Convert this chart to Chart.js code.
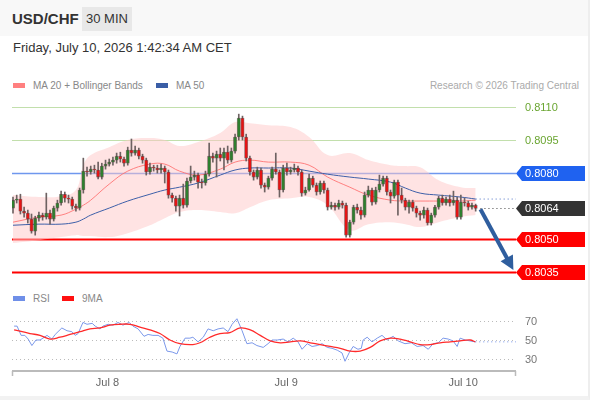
<!DOCTYPE html>
<html>
<head>
<meta charset="utf-8">
<script src="https://cdn.jsdelivr.net/npm/chart.js@4.4.0/dist/chart.umd.min.js"></script>
<style>
body { margin: 0; background: #fff; font-family: "Liberation Sans", Arial, sans-serif; }
#wrap { position: relative; width: 588px; height: 396px; overflow: hidden; background: #fff;
        border-right: 2px solid #eee; border-bottom: 4px solid #f2f2f2; }
#head { position: absolute; left: 0; top: 0; width: 590px; height: 36px; background: #f8f8f8; }
#pair { position: absolute; left: 12px; top: 10px; font-weight: bold; font-size: 15px; line-height: 18px; color: #333; }
#tf { position: absolute; left: 82px; top: 7px; width: 50px; height: 24px; line-height: 24px; background: #e8e8e8;
      font-size: 13px; text-align: center; color: #333; }
#date { position: absolute; left: 13px; top: 40px; font-size: 13px; line-height: 16px; color: #333; }
.leg { position: absolute; font-size: 10px; line-height: 12px; color: #888; }
.sw { display: inline-block; width: 12px; height: 5px; vertical-align: 1px; margin-right: 8px; }
#research { position: absolute; right: 9px; top: 80px; font-size: 10px; line-height: 12px; color: #aaa; }
#main { position: absolute; left: 0; top: 95px; }
#rsi { position: absolute; left: 0; top: 305px; }
</style>
</head>
<body>
<div id="wrap">
  <div id="head"></div>
  <div id="pair">USD/CHF</div>
  <div id="tf">30 MIN</div>
  <div id="date">Friday, July 10, 2026 1:42:34 AM CET</div>
  <div class="leg" style="left:13px;top:80px"><span class="sw" style="background:#ff8080"></span>MA 20 + Bollinger Bands</div>
  <div class="leg" style="left:156px;top:80px"><span class="sw" style="background:#3a5ea6"></span>MA 50</div>
  <div id="research">Research © 2026 Trading Central</div>
  <div class="leg" style="left:13px;top:293px"><span class="sw" style="background:#6f8fe8"></span>RSI</div>
  <div class="leg" style="left:62px;top:293px"><span class="sw" style="background:#ff1010"></span>9MA</div>
  <canvas id="main" width="590" height="187"></canvas>
  <canvas id="rsi" width="590" height="95"></canvas>
</div>
<script>
// candles, 30 min, index 0 = Jul 7 11:00
var opens = [
  0.80641,0.80677,0.80682,0.80627,0.80618,0.80591,0.80536,0.80595,0.80609,0.80600,
  0.80618,0.80591,0.80641,0.80664,0.80704,0.80686,0.80682,0.80650,0.80641,0.80723,
  0.80809,0.80805,0.80818,0.80814,0.80782,0.80832,0.80841,0.80850,0.80859,0.80877,
  0.80864,0.80845,0.80905,0.80891,0.80905,0.80877,0.80859,0.80805,0.80827,0.80823,
  0.80814,0.80823,0.80805,0.80700,0.80686,0.80650,0.80686,0.80654,0.80764,0.80782,
  0.80791,0.80759,0.80755,0.80795,0.80877,0.80868,0.80886,0.80868,0.80896,0.80859,
  0.80900,0.80964,0.81050,0.80964,0.80868,0.80805,0.80782,0.80814,0.80745,0.80736,
  0.80777,0.80818,0.80805,0.80723,0.80823,0.80805,0.80814,0.80823,0.80805,0.80709,
  0.80723,0.80777,0.80745,0.80714,0.80755,0.80723,0.80645,0.80654,0.80645,0.80664,
  0.80654,0.80518,0.80577,0.80645,0.80632,0.80609,0.80700,0.80723,0.80668,0.80723,
  0.80750,0.80777,0.80714,0.80695,0.80759,0.80700,0.80677,0.80645,0.80668,0.80641,
  0.80618,0.80609,0.80632,0.80573,0.80609,0.80645,0.80686,0.80664,0.80682,0.80664,
  0.80677,0.80600,0.80668,0.80664,0.80645,0.80654]
var closes = [
  0.80677,0.80682,0.80627,0.80618,0.80591,0.80536,0.80595,0.80609,0.80600,0.80618,
  0.80591,0.80641,0.80664,0.80704,0.80686,0.80682,0.80650,0.80641,0.80723,0.80809,
  0.80805,0.80818,0.80814,0.80782,0.80832,0.80841,0.80850,0.80859,0.80877,0.80864,
  0.80845,0.80905,0.80891,0.80905,0.80877,0.80859,0.80805,0.80827,0.80823,0.80814,
  0.80823,0.80805,0.80700,0.80686,0.80650,0.80686,0.80654,0.80764,0.80782,0.80791,
  0.80759,0.80755,0.80795,0.80877,0.80868,0.80886,0.80868,0.80896,0.80859,0.80900,
  0.80964,0.81050,0.80964,0.80868,0.80805,0.80782,0.80814,0.80745,0.80736,0.80777,
  0.80818,0.80805,0.80723,0.80823,0.80805,0.80814,0.80823,0.80805,0.80709,0.80723,
  0.80777,0.80745,0.80714,0.80755,0.80723,0.80645,0.80654,0.80645,0.80664,0.80654,
  0.80518,0.80577,0.80645,0.80632,0.80609,0.80700,0.80723,0.80668,0.80723,0.80750,
  0.80777,0.80714,0.80695,0.80759,0.80700,0.80677,0.80645,0.80668,0.80641,0.80618,
  0.80609,0.80632,0.80573,0.80609,0.80645,0.80686,0.80664,0.80682,0.80664,0.80677,
  0.80600,0.80668,0.80664,0.80645,0.80654,0.80640]
var highs = [
  0.80691,0.80700,0.80704,0.80645,0.80632,0.80614,0.80604,0.80623,0.80618,0.80709,
  0.80632,0.80650,0.80677,0.80718,0.80714,0.80700,0.80691,0.80659,0.80732,0.80868,
  0.80827,0.80832,0.80836,0.80850,0.80845,0.80859,0.80864,0.80873,0.80891,0.80895,
  0.80873,0.80918,0.80955,0.80923,0.80914,0.80886,0.80868,0.80845,0.80836,0.80836,
  0.80841,0.80832,0.80814,0.80709,0.80695,0.80700,0.80750,0.80777,0.80832,0.80809,
  0.80800,0.80773,0.80809,0.80936,0.80891,0.80900,0.80914,0.80914,0.80923,0.80914,
  0.80977,0.81068,0.81059,0.80977,0.80877,0.80814,0.80827,0.80823,0.80755,0.80786,
  0.80827,0.80891,0.80814,0.80836,0.80845,0.80827,0.80841,0.80832,0.80814,0.80736,
  0.80795,0.80786,0.80755,0.80764,0.80764,0.80732,0.80668,0.80664,0.80677,0.80673,
  0.80664,0.80586,0.80654,0.80659,0.80645,0.80714,0.80741,0.80732,0.80736,0.80791,
  0.80786,0.80786,0.80723,0.80768,0.80768,0.80732,0.80686,0.80677,0.80677,0.80650,
  0.80627,0.80645,0.80641,0.80618,0.80654,0.80695,0.80700,0.80691,0.80700,0.80718,
  0.80691,0.80700,0.80686,0.80673,0.80664,0.80659]
var lows = [
  0.80618,0.80664,0.80614,0.80600,0.80573,0.80527,0.80518,0.80582,0.80586,0.80591,
  0.80568,0.80582,0.80627,0.80654,0.80668,0.80664,0.80636,0.80627,0.80632,0.80709,
  0.80786,0.80795,0.80800,0.80773,0.80773,0.80818,0.80832,0.80836,0.80845,0.80850,
  0.80832,0.80836,0.80877,0.80882,0.80864,0.80845,0.80791,0.80795,0.80809,0.80800,
  0.80800,0.80755,0.80686,0.80668,0.80627,0.80605,0.80641,0.80645,0.80755,0.80768,
  0.80732,0.80732,0.80745,0.80786,0.80850,0.80782,0.80855,0.80814,0.80845,0.80850,
  0.80891,0.80950,0.80950,0.80855,0.80791,0.80768,0.80773,0.80732,0.80714,0.80727,
  0.80768,0.80795,0.80691,0.80714,0.80791,0.80795,0.80805,0.80791,0.80695,0.80700,
  0.80718,0.80736,0.80700,0.80704,0.80709,0.80632,0.80636,0.80632,0.80636,0.80641,
  0.80509,0.80509,0.80568,0.80618,0.80591,0.80600,0.80691,0.80654,0.80659,0.80714,
  0.80741,0.80700,0.80664,0.80686,0.80609,0.80664,0.80632,0.80618,0.80627,0.80600,
  0.80586,0.80595,0.80564,0.80564,0.80600,0.80636,0.80654,0.80654,0.80650,0.80654,
  0.80591,0.80591,0.80650,0.80632,0.80636,0.80627]

// moving averages and bollinger bands read at these candle indexes
var maIdx = [0, 7, 13, 17, 19, 21, 26, 31, 37, 41, 45, 50, 56, 60, 64, 69, 75, 80, 85, 91, 96, 102, 106, 110, 115, 121, 125]
var ma50 = [0.80563,0.80568,0.80568,0.80577,0.80591,0.80609,0.80641,0.80673,0.80704,0.80723,0.80736,0.80755,0.80791,0.80814,
            0.80823,0.80823,0.80823,0.80809,0.80795,0.80782,0.80773,0.80759,0.80732,0.80709,0.80700,0.80691,0.80682]
var ma20 = [0.80577,0.80600,0.80609,0.80636,0.80654,0.80677,0.80750,0.80809,0.80841,0.80841,0.80809,0.80791,0.80818,0.80850,
            0.80859,0.80850,0.80850,0.80836,0.80782,0.80736,0.80700,0.80677,0.80673,0.80673,0.80673,0.80673,0.80677]
var bbUpper = [0.80700,0.80691,0.80695,0.80723,0.80836,0.80882,0.80918,0.80950,0.80959,0.80950,0.80923,0.80941,0.80982,0.81032,
               0.81027,0.81018,0.81009,0.80964,0.80882,0.80891,0.80859,0.80836,0.80832,0.80827,0.80768,0.80736,0.80732]
var bbLower = [0.80482,0.80495,0.80509,0.80518,0.80514,0.80514,0.80509,0.80527,0.80563,0.80595,0.80623,0.80632,0.80623,0.80618,
               0.80645,0.80677,0.80686,0.80691,0.80654,0.80541,0.80568,0.80577,0.80568,0.80555,0.80577,0.80600,0.80609]

// price levels on the right
var levelPrices = [0.8110, 0.8095, 0.8080, 0.8064, 0.8050, 0.8035]
var levelKinds = ['target', 'target', 'resist', 'last', 'support', 'support']
var arrowFrom = [126.3, 0.80636]
var arrowTo = [135.2, 0.80359]

// RSI panel
var rsiIdx = [0.3,1.1,2.2,3.2,4.1,5.1,6.2,7.3,8.1,9.2,10.5,11.4,13.2,14.6,15.9,16.8,17.6,18.9,20,21.4,22.2,23.5,24.3,25.7,27,
  28.4,29.7,31.4,32.4,33.8,35.4,36.5,37.8,39.2,40.5,41.6,43,44.3,45.1,46.5,47.8,48.6,50,51.4,52.7,54.1,55.4,56.8,58.1,59.2,
  60.5,61.9,63.2,64.6,65.9,67.6,68.9,70,71.4,73,74.3,75.7,77,78.1,79.5,80.8,82.2,83.5,84.9,86.2,87.6,88.9,89.7,90.8,91.9,
  93.2,94.1,94.6,95.7,97,98.4,99.7,101.1,102.7,104.1,105.9,107.6,109.2,110.8,112.2,113.5,114.9,116.2,117.6,118.9,120,120.8,
  122.2,123.5,124.9]
var rsiVal = [65,65,55,55,51,44,50,50,52,55,51,56,63,60,59,55,57,69,67,68,65,62,65,67,66,
  69,66,69,65,62,54,56,55,55,52,38,37,35,43,52,52,53,48,53,62,60,62,63,59,67,
  73,60,46,47,44,42,46,50,50,51,48,52,48,40,46,43,44,46,42,41,39,36,27,36,43,
  40,41,50,53,48,52,55,50,54,49,46,47,43,44,40,46,47,52,51,49,43,52,
  50,49,48]
var ma9Idx = [0.3,4.6,7.3,10,12.7,15.4,18.1,20.8,23.5,26.2,28.9,31.6,34.3,37,39.7,42.4,45.1,48.6,50.5,53.2,55.9,58.6,61.4,
  64.1,66.8,69.5,72.2,74.9,77.6,80.3,83,85.7,88.4,91.1,93.8,96.5,99.2,101.9,104.6,107.3,110,112.7,115.4,118.1,120.8,123.5,124.9]
var ma9Val = [61,57,55,51,53,56,59,62,63,66,67,67,64,61,57,50,46,45,47,53,57,58,63,
  61,55,49,47,48,49,47,45,43,41,38,38,42,49,52,51,48,45,45,47,48,49,50,48]
var rsiLevels = [70, 50, 30]

// x axis
var tickIdx = [25.5, 73.8, 121.6]
var tickLabels = ['Jul 8', 'Jul 9', 'Jul 10']

var X_MIN = -0.27, X_MAX = 135.9
var FONT = '"Liberation Sans", Arial, sans-serif'
var UP = '#2f7f2f', DOWN = '#e41414', WICK = '#6e6262'

var levelStyle = {
    target: { line: '#c2dfac', width: 1, text: '#6aa531' },
    resist: { line: '#6f97ee', width: 1.5, tag: '#1f62f0' },
    last: { dotted: '#444', tag: '#333333' },
    support: { line: '#ff0000', width: 2, tag: '#ff0000' }
}

function pts(xs, ys) {
    return xs.map(function (x, k) { return { x: x, y: ys[k] } })
}

var levelsPlugin = {
    id: 'levels',
    beforeDatasetsDraw: function (chart) {
        var ctx = chart.ctx, a = chart.chartArea, ys = chart.scales.y
        ctx.save()
        levelPrices.forEach(function (p, k) {
            var st = levelStyle[levelKinds[k]]
            if (!st.line) return
            var y = Math.round(ys.getPixelForValue(p)) + 0.5
            ctx.strokeStyle = st.line
            ctx.lineWidth = st.width
            ctx.beginPath(); ctx.moveTo(a.left, y); ctx.lineTo(a.right, y); ctx.stroke()
        })
        ctx.restore()
    },
    afterDraw: function (chart) {
        var ctx = chart.ctx, a = chart.chartArea, xs = chart.scales.x, ys = chart.scales.y
        ctx.save()
        levelPrices.forEach(function (p, k) {
            var st = levelStyle[levelKinds[k]]
            var y = Math.round(ys.getPixelForValue(p)) + 0.5
            // last price dotted line
            if (st.dotted) {
                ctx.strokeStyle = st.dotted; ctx.lineWidth = 1; ctx.setLineDash([1, 3])
                ctx.beginPath(); ctx.moveTo(xs.getPixelForValue(arrowFrom[0]), y); ctx.lineTo(a.right, y); ctx.stroke()
                ctx.setLineDash([])
            }
            ctx.font = '11px ' + FONT
            ctx.textBaseline = 'middle'
            var txt = p.toFixed(4)
            if (st.tag) {
                ctx.fillStyle = st.tag
                ctx.beginPath()
                ctx.moveTo(a.right, y)
                ctx.lineTo(a.right + 6, y - 7.5)
                ctx.lineTo(585, y - 7.5)
                ctx.lineTo(585, y + 7.5)
                ctx.lineTo(a.right + 6, y + 7.5)
                ctx.closePath(); ctx.fill()
                ctx.fillStyle = '#fff'
            } else {
                ctx.fillStyle = st.text
            }
            ctx.fillText(txt, a.right + 9, y + 0.5)
        })
        // arrow
        var x0 = xs.getPixelForValue(arrowFrom[0]), y0 = ys.getPixelForValue(arrowFrom[1])
        var x1 = xs.getPixelForValue(arrowTo[0]), y1 = ys.getPixelForValue(arrowTo[1])
        var ang = Math.atan2(y1 - y0, x1 - x0), head = 14
        var bx = x1 - head * Math.cos(ang), by = y1 - head * Math.sin(ang)
        ctx.strokeStyle = '#2f5e9e'; ctx.fillStyle = '#2f5e9e'; ctx.lineWidth = 4
        ctx.beginPath(); ctx.moveTo(x0, y0); ctx.lineTo(bx + 2 * Math.cos(ang), by + 2 * Math.sin(ang)); ctx.stroke()
        ctx.beginPath()
        ctx.moveTo(x1, y1)
        ctx.lineTo(bx + 7 * Math.sin(ang), by - 7 * Math.cos(ang))
        ctx.lineTo(bx - 7 * Math.sin(ang), by + 7 * Math.cos(ang))
        ctx.closePath(); ctx.fill()
        ctx.restore()
    }
}

new Chart(document.getElementById('main').getContext('2d'), {
    type: 'bar',
    data: {
        datasets: [
            {
                type: 'bar', label: 'wick',
                data: lows.map(function (l, i) { return { x: i, y: [l, highs[i]] } }),
                backgroundColor: WICK, barThickness: 1, grouped: false, order: 2
            },
            {
                type: 'bar', label: 'body',
                data: closes.map(function (c, i) { return { x: i, y: [opens[i], c] } }),
                backgroundColor: function (c) { return closes[c.dataIndex] >= opens[c.dataIndex] ? UP : DOWN },
                borderColor: 'rgba(60,40,40,0.55)', borderWidth: 0.8, borderSkipped: false,
                barThickness: 3.4, minBarLength: 1, grouped: false, order: 1
            },
            {
                type: 'line', label: 'MA 50', data: pts(maIdx, ma50),
                borderColor: '#3d5fa8', borderWidth: 1, pointRadius: 0, tension: 0.4, order: 3
            },
            {
                type: 'line', label: 'MA 20', data: pts(maIdx, ma20),
                borderColor: 'rgba(255,110,110,0.85)', borderWidth: 1, pointRadius: 0, tension: 0.4, order: 4
            },
            {
                type: 'line', label: 'BB up', data: pts(maIdx, bbUpper),
                borderWidth: 0, borderColor: 'rgba(0,0,0,0)', backgroundColor: 'rgba(255,200,200,0.5)',
                fill: '+1', pointRadius: 0, tension: 0.4, order: 6
            },
            {
                type: 'line', label: 'BB low', data: pts(maIdx, bbLower),
                borderWidth: 0, borderColor: 'rgba(0,0,0,0)', pointRadius: 0, tension: 0.4, order: 7
            },
            {
                type: 'line', label: 'MA 50 ext',
                data: [{ x: maIdx[maIdx.length - 1], y: ma50[ma50.length - 1] }, { x: X_MAX, y: ma50[ma50.length - 1] }],
                borderColor: '#4a6fc4', borderWidth: 1, borderDash: [1, 3], pointRadius: 0, order: 3
            }
        ]
    },
    options: {
        responsive: false, animation: false, events: [],
        layout: { padding: { left: 12, right: 74, top: 0, bottom: 0 } },
        plugins: { legend: { display: false }, tooltip: { enabled: false } },
        scales: {
            x: { type: 'linear', display: false, min: X_MIN, max: X_MAX, offset: false },
            y: { type: 'linear', display: false, min: 0.80305, max: 0.81155 }
        }
    },
    plugins: [levelsPlugin]
})

var rsiPlugin = {
    id: 'rsiAxes',
    beforeDatasetsDraw: function (chart) {
        var ctx = chart.ctx, a = chart.chartArea, ys = chart.scales.y
        ctx.save()
        ctx.strokeStyle = '#bbb'; ctx.lineWidth = 1; ctx.setLineDash([1, 3])
        ctx.fillStyle = '#777'; ctx.font = '11px ' + FONT; ctx.textBaseline = 'middle'
        rsiLevels.forEach(function (v) {
            var y = Math.round(ys.getPixelForValue(v)) + 0.5
            ctx.beginPath(); ctx.moveTo(a.left, y); ctx.lineTo(a.right, y); ctx.stroke()
            ctx.fillText(String(v), a.right + 9, y)
        })
        ctx.restore()
    },
    afterDraw: function (chart) {
        var ctx = chart.ctx, a = chart.chartArea, xs = chart.scales.x
        var y = a.bottom + 1
        ctx.save()
        ctx.strokeStyle = '#bbb'; ctx.lineWidth = 2
        ctx.beginPath(); ctx.moveTo(a.left, y); ctx.lineTo(a.right, y); ctx.stroke()
        ctx.lineWidth = 1.5
        ctx.beginPath()
        ctx.moveTo(a.left + 0.5, y); ctx.lineTo(a.left + 0.5, y + 5)
        ctx.moveTo(a.right - 0.5, y); ctx.lineTo(a.right - 0.5, y + 5)
        ctx.stroke()
        ctx.fillStyle = '#666'; ctx.font = '11px ' + FONT; ctx.textAlign = 'center'; ctx.textBaseline = 'middle'
        tickIdx.forEach(function (t, k) {
            ctx.fillText(tickLabels[k], xs.getPixelForValue(t), y + 12)
        })
        ctx.restore()
    }
}

new Chart(document.getElementById('rsi').getContext('2d'), {
    type: 'line',
    data: {
        datasets: [
            {
                label: 'RSI', data: pts(rsiIdx, rsiVal),
                borderColor: '#7b98ea', borderWidth: 1, pointRadius: 0, tension: 0, order: 2
            },
            {
                label: '9MA', data: pts(ma9Idx, ma9Val),
                borderColor: '#ff2a2a', borderWidth: 1.3, pointRadius: 0, tension: 0.4, order: 1
            },
            {
                label: 'RSI ext',
                data: [{ x: rsiIdx[rsiIdx.length - 1], y: rsiVal[rsiVal.length - 1] }, { x: X_MAX, y: rsiVal[rsiVal.length - 1] }],
                borderColor: '#6f8fe8', borderWidth: 1, borderDash: [1, 3], pointRadius: 0, order: 3
            }
        ]
    },
    options: {
        responsive: false, animation: false, events: [],
        layout: { padding: { left: 12, right: 74, top: 5, bottom: 30 } },
        plugins: { legend: { display: false }, tooltip: { enabled: false } },
        scales: {
            x: { type: 'linear', display: false, min: X_MIN, max: X_MAX },
            y: { type: 'linear', display: false, min: 17.57, max: 82.43 }
        }
    },
    plugins: [rsiPlugin]
})
</script>
</body>
</html>
